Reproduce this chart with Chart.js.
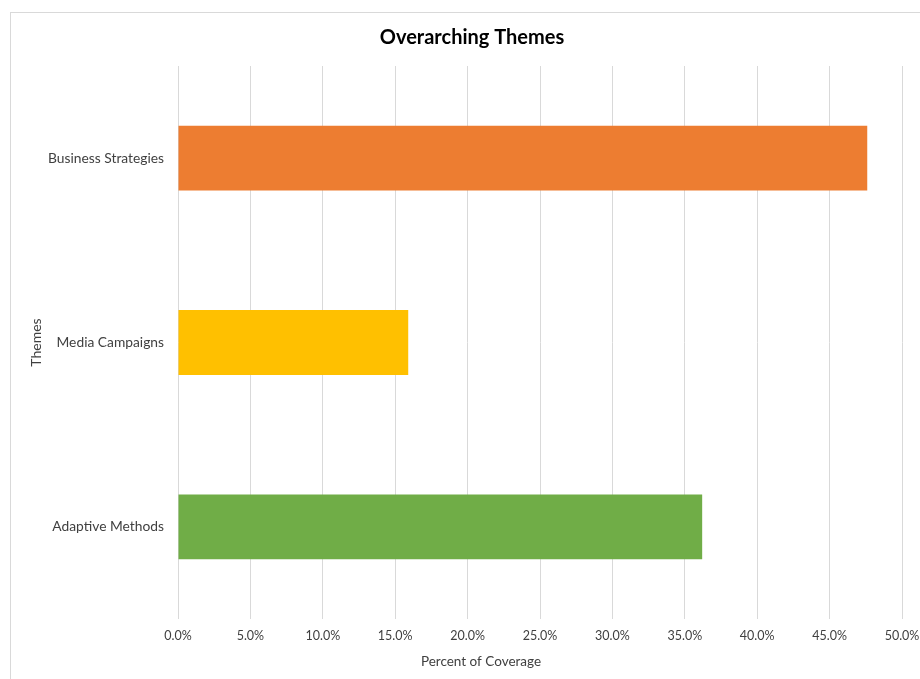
<!DOCTYPE html>
<html>
<head>
<meta charset="utf-8">
<script src="https://cdn.jsdelivr.net/npm/chart.js@4"></script>
<style>
  body { margin: 0; background: #fff; }
  #wrap { position: relative; width: 920px; height: 679px; overflow: hidden; }
  #frame { position: absolute; left: 10px; top: 12px; width: 930px; height: 700px; border: 1px solid #d9d9d9; box-sizing: border-box; }
  #box { position: absolute; left: 0; top: 0; width: 920px; height: 679px; }
</style>
</head>
<body>
<div id="wrap">
  <div id="frame"></div>
  <div id="box"><canvas id="chart"></canvas></div>
</div>
<script>
const themes = ["Business Strategies", "Media Campaigns", "Adaptive Methods"];
const coverage = [47.6, 15.9, 36.2];
const barColors = ["#ED7D31", "#FFC000", "#70AD47"];
const xTicks = [0, 5, 10, 15, 20, 25, 30, 35, 40, 45, 50];

const fontFamily = "Lato, 'Open Sans', sans-serif";

// the original centres the chart title and the x axis title on the frame,
// not on the plot area, so nudge them after layout
const shiftTitles = {
  id: "shiftTitles",
  afterLayout(chart) {
    const t = chart.titleBlock;
    if (t) {
      t.left = 24;
      t.right = chart.width;
      t.width = t.right - t.left;
    }
    const x = chart.scales.x;
    if (x && !x._titlePatched) {
      const orig = x.drawTitle;
      x.drawTitle = function() {
        const l = this.left, r = this.right;
        this.left = 42;
        this.right = chart.width;
        orig.call(this);
        this.left = l;
        this.right = r;
      };
      x._titlePatched = true;
    }
  }
};

const ctx = document.getElementById("chart").getContext("2d");
new Chart(ctx, {
  type: "bar",
  data: {
    labels: themes,
    datasets: [{
      label: "Percent of Coverage",
      data: coverage,
      backgroundColor: barColors,
      borderWidth: 0,
      barPercentage: 0.352,
      categoryPercentage: 1
    }]
  },
  options: {
    indexAxis: "y",
    responsive: true,
    maintainAspectRatio: false,
    animation: false,
    layout: { padding: { left: 10, right: 18, top: 0, bottom: 0 } },
    plugins: {
      legend: { display: false },
      tooltip: { enabled: false },
      title: {
        display: true,
        text: "Overarching Themes",
        color: "#000",
        font: { family: fontFamily, size: 20, weight: "bold" },
        padding: { top: 26, bottom: 16 }
      }
    },
    scales: {
      x: {
        min: xTicks[0],
        max: xTicks[xTicks.length - 1],
        afterBuildTicks: axis => { axis.ticks = xTicks.map(v => ({ value: v })); },
        afterFit: axis => {
          axis.height = 60;
          // let the last label hang into the right margin like the original
          axis.paddingRight = 0;
          axis.paddingLeft = 0;
        },
        border: { display: false },
        grid: { color: "#d9d9d9", lineWidth: 1, drawTicks: false },
        ticks: {
          color: "#404040",
          padding: 9,
          maxRotation: 0,
          font: { family: fontFamily, size: 12.5 },
          callback: v => v.toFixed(1) + "%"
        },
        title: {
          display: true,
          text: "Percent of Coverage",
          color: "#404040",
          font: { family: fontFamily, size: 13.5 },
          padding: { top: 0, bottom: 9 }
        }
      },
      y: {
        afterFit: axis => { axis.width = 168; },
        border: { display: false },
        grid: { display: false, drawTicks: false },
        ticks: {
          color: "#404040",
          padding: 14,
          font: { family: fontFamily, size: 13.8 }
        },
        title: {
          display: true,
          text: "Themes",
          color: "#404040",
          font: { family: fontFamily, size: 14 },
          padding: { top: 18, bottom: 0 }
        }
      }
    }
  },
  plugins: [shiftTitles]
});
</script>
</body>
</html>
